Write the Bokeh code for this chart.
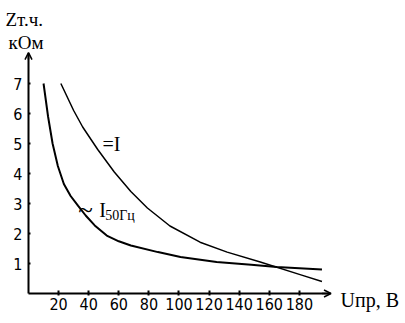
from bokeh.plotting import figure
from bokeh.models import LinearAxis, FixedTicker, Arrow, OpenHead, Label, Range1d
from bokeh.embed import file_html
from bokeh.resources import INLINE

# Data
u_ac = [10, 13, 16, 19.5, 23.5, 28, 33, 38, 44, 52, 60, 68, 86, 101, 125, 148, 165, 195]
z_ac = [7.0, 5.9, 5.0, 4.25, 3.65, 3.25, 2.92, 2.6, 2.27, 1.93, 1.74, 1.6, 1.38, 1.22, 1.05, 0.96, 0.88, 0.80]
u_dc = [21.5, 30, 36, 46, 57, 68, 79, 94, 114, 132, 154, 181, 195]
z_dc = [7.0, 6.1, 5.55, 4.8, 4.05, 3.4, 2.85, 2.25, 1.71, 1.38, 1.05, 0.62, 0.4]
x_ticks = [20, 40, 60, 80, 100, 120, 140, 160, 180]
y_ticks = [1, 2, 3, 4, 5, 6, 7]

p = figure(width=405, height=323, output_backend="svg", toolbar_location=None,
           x_axis_type=None, y_axis_type=None,
           x_range=Range1d(-18.6, 250.5), y_range=Range1d(-1.0, 9.767),
           min_border=0, min_border_left=0, min_border_right=0,
           min_border_top=0, min_border_bottom=0)
p.outline_line_color = None
p.xgrid.visible = False
p.ygrid.visible = False
p.background_fill_color = "white"
p.border_fill_color = "white"

tick_font = "'Liberation Sans Narrow', 'DejaVu Sans Condensed', 'Liberation Sans', sans-serif"

xaxis = LinearAxis(fixed_location=0, bounds=(0, 200.5), ticker=FixedTicker(ticks=x_ticks))
xaxis.axis_line_width = 2
xaxis.major_tick_in = 3
xaxis.major_tick_out = 2
xaxis.major_tick_line_width = 2
xaxis.minor_tick_line_color = None
xaxis.major_label_text_font = tick_font
xaxis.major_label_text_font_size = "16px"
xaxis.major_label_standoff = 2
xaxis.major_label_text_color = "black"
p.add_layout(xaxis, "below")

yaxis = LinearAxis(fixed_location=0, bounds=(0, 8.0), ticker=FixedTicker(ticks=y_ticks))
yaxis.axis_line_width = 2
yaxis.major_tick_in = 2
yaxis.major_tick_out = 0
yaxis.major_tick_line_width = 2
yaxis.minor_tick_line_color = None
yaxis.major_label_text_font = tick_font
yaxis.major_label_text_font_size = "16px"
yaxis.major_label_standoff = 6
yaxis.major_label_text_color = "black"
p.add_layout(yaxis, "left")

p.add_layout(Arrow(end=OpenHead(size=7, line_width=1.5), x_start=195, y_start=0,
                   x_end=201, y_end=0, line_width=1.5))
p.add_layout(Arrow(end=OpenHead(size=7, line_width=1.5), x_start=0, y_start=7.8,
                   x_end=0, y_end=8.03, line_width=1.5))

p.line(u_ac, z_ac, line_color="black", line_width=2)
p.line(u_dc, z_dc, line_color="black", line_width=1.5)

serif = "Liberation Serif"
def lab(x, y, t, size):
    p.add_layout(Label(x=x, y=y, text=t, text_font=serif, text_font_size=size,
                       text_baseline="alphabetic", text_color="black"))

lab(-15.3, 9.13, "Zт.ч.", "19px")
lab(-13.3, 8.37, "кОм", "19px")
lab(207.3, -0.23, "Uпр, В", "20px")
lab(49.2, 5.0, "=I", "20px")
lab(33.0, 2.78, "~", "27px")
lab(47.0, 2.80, "I", "20px")
lab(51.0, 2.60, "50Гц", "14px")

open("out.html", "w").write(file_html(p, INLINE))
